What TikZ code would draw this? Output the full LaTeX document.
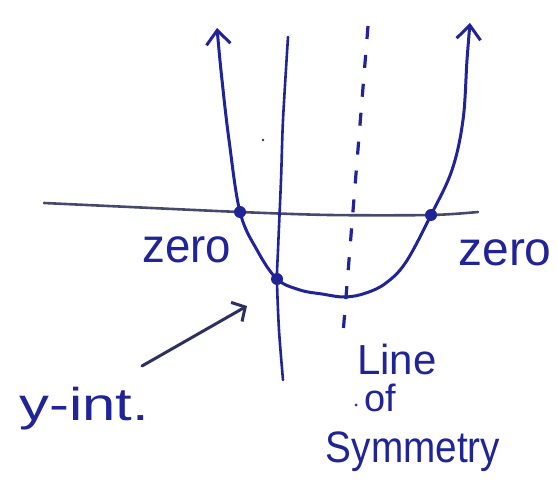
\documentclass[tikz,border=0pt]{standalone}
\usepackage{fontspec}
\setmainfont{Liberation Sans}
\usetikzlibrary{arrows.meta}
\definecolor{ink}{RGB}{32,36,150}
\definecolor{axisink}{RGB}{70,72,110}
\definecolor{darkink}{RGB}{45,48,95}
\tikzset{
  curveline/.style={draw=ink, line width=3pt, line cap=round, line join=round},
  axisline/.style={draw=axisink, line width=2.6pt, line cap=round},
  yaxisline/.style={draw=ink, line width=2.6pt, line cap=round},
  symline/.style={draw=ink, line width=3.2pt, dash pattern=on 13pt off 16pt},
  dotnode/.style={circle, fill=ink, inner sep=0pt, minimum size=12pt},
  label/.style={text=ink, inner sep=0pt},
}
\begin{document}
\begin{tikzpicture}[x=1pt,y=-1pt]
\useasboundingbox (0,0) rectangle (557,500);
% x-axis
\draw[axisline] plot[smooth] coordinates {(44,203) (130,207) (240,212) (330,215) (431,215) (478,212)};
% y-axis
\draw[yaxisline] plot[smooth] coordinates {(288,37) (283,120) (281,180) (278,250) (277,280) (279,330) (283,380)};
% line of symmetry
\draw[symline] (368,26) -- (343,334);
% parabola
\draw[curveline, {Straight Barb[length=14pt,width=24pt,line width=3pt]}-{Straight Barb[length=14pt,width=24pt,line width=3pt]}]
  plot[smooth, tension=0.6] coordinates {(217,28) (222,80) (229,140) (240,212) (257,250) (277,279) (300,290) (322,294) (345,297) (366,293) (386,283) (406,262) (431,215) (452,170) (463,120) (467,60) (470,23)};
% points
\node[dotnode] (zl) at (240,212) {};
\node[dotnode] (zr) at (431,215) {};
\node[dotnode] (yi) at (277,279) {};
% stray speck
\fill[darkink] (263,140) circle (1.3pt);
% labels
\node[label, font=\fontsize{48}{48}\selectfont, xscale=0.95] (lzl) at (187,250) {zero};
\node[label, font=\fontsize{48}{48}\selectfont] (lzr) at (505,253) {zero};
\node[label, font=\fontsize{46}{46}\selectfont, xscale=1.3] (lyi) at (84,409) {y-int.};
\node[label, font=\fontsize{42}{42}\selectfont] (lline) at (397,359) {Line};
\node[label, font=\fontsize{38}{38}\selectfont] (lof) at (380,398) {of};
\fill[ink] (356,405) circle (1.5pt);
\node[label, font=\fontsize{44}{44}\selectfont, xscale=0.88] (lsym) at (413,452) {Symmetry};
% y-int arrow
\coordinate (astart) at (142,366);
\coordinate (aend) at (247,306);
\draw[draw=darkink, line width=3pt, line cap=round, -{Straight Barb[length=10pt,width=22pt,line width=3pt]}] (astart) -- (aend);
\end{tikzpicture}
\end{document}
